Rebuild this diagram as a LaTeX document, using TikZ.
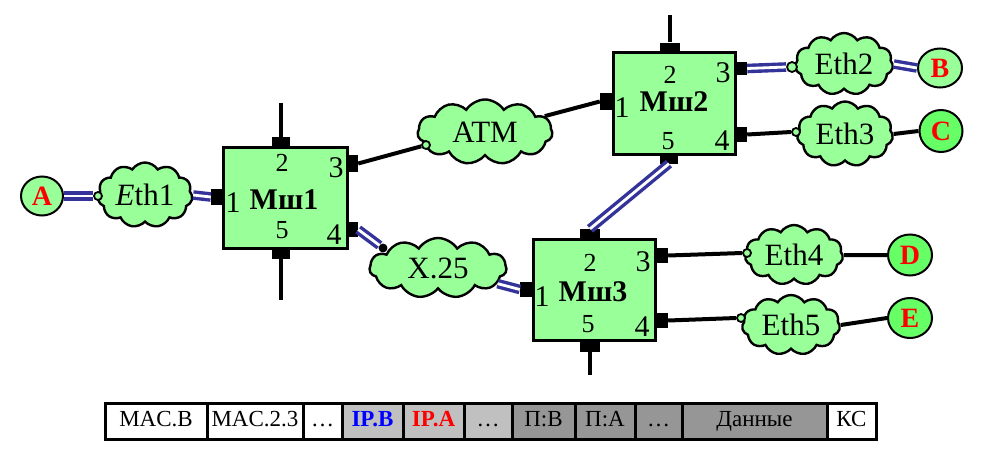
\documentclass[tikz,border=0pt]{standalone}
\usepackage{fontspec}
\setmainfont{Liberation Serif}
\usetikzlibrary{shapes.symbols,shapes.geometric}
\definecolor{lg}{RGB}{153,255,153}
\definecolor{mg}{RGB}{102,255,102}
\definecolor{dblue}{RGB}{51,51,153}
\definecolor{ga}{RGB}{192,192,192}
\definecolor{gb}{RGB}{150,150,150}
\tikzset{
  router/.style={draw, line width=3pt, fill=lg, rectangle, inner sep=0},
  port/.style={fill=black, rectangle, inner sep=0},
  net/.style={cloud, cloud puffs=11, cloud puff arc=115, cloud ignores aspect, draw, line width=2.4pt, fill=lg, inner sep=0, font=\fontsize{31}{33}\selectfont},
  host/.style={ellipse, draw, line width=2pt, inner sep=0, text=red, font=\fontsize{28}{30}\selectfont\bfseries},
  jack/.style={circle, draw, line width=1.8pt, fill=lg, inner sep=0, minimum size=8pt},
  dline/.style={draw=dblue, double=white, double distance=2.8pt, line width=3.4pt},
  bline/.style={line width=4pt},
  rname/.style={font=\fontsize{30}{32}\selectfont\bfseries, inner sep=0},
  pbig/.style={font=\fontsize{30}{32}\selectfont, inner sep=0},
  psmall/.style={font=\fontsize{26}{28}\selectfont, inner sep=0},
  cell/.style={draw, line width=3pt, minimum height=36pt, inner sep=0, text height=15pt, text depth=4pt, font=\fontsize{23}{25}\selectfont},
}
\begin{document}
\begin{tikzpicture}[x=1pt,y=-1pt]
\useasboundingbox[fill=white] (0,0) rectangle (987,463);

% routers
\node[router, minimum width=124pt, minimum height=101pt] (r1) at (285,197.5) {};
\node[router, minimum width=122pt, minimum height=102pt] (r2) at (674,103) {};
\node[router, minimum width=122pt, minimum height=101pt] (r3) at (594,289.5) {};

\node[rname] (r1n) at (284,200) {Мш1};
\node[rname] (r2n) at (674,102) {Мш2};
\node[rname] (r3n) at (593,292) {Мш3};

% port numbers
\node[pbig] (r1l1) at (233,203) {1};
\node[psmall] (r1l2) at (282,163) {2};
\node[pbig] (r1l3) at (336,168) {3};
\node[pbig] (r1l4) at (334,235) {4};
\node[psmall] (r1l5) at (282,230) {5};

\node[pbig] (r2l1) at (622,108) {1};
\node[psmall] (r2l2) at (670,75) {2};
\node[pbig] (r2l3) at (723,73) {3};
\node[pbig] (r2l4) at (722,141) {4};
\node[psmall] (r2l5) at (668,141) {5};

\node[pbig] (r3l1) at (542,297) {1};
\node[psmall] (r3l2) at (590,263) {2};
\node[pbig] (r3l3) at (643,262) {3};
\node[pbig] (r3l4) at (642,327) {4};
\node[psmall] (r3l5) at (588,324) {5};

% ports
\node[port, minimum width=18pt, minimum height=11pt] (r1p2) at (281,142.5) {};
\node[port, minimum width=18pt, minimum height=11pt] (r1p5) at (281,253) {};
\node[port, minimum width=13pt, minimum height=16pt] (r1p1) at (217.5,197) {};
\node[port, minimum width=12pt, minimum height=17pt] (r1p3) at (352,163.5) {};
\node[port, minimum width=12pt, minimum height=15pt] (r1p4) at (352,229.5) {};

\node[port, minimum width=20pt, minimum height=10pt] (r2p2) at (670,47.5) {};
\node[port, minimum width=13pt, minimum height=17pt] (r2p1) at (606.5,101.5) {};
\node[port, minimum width=12pt, minimum height=13pt] (r2p3) at (741,68.5) {};
\node[port, minimum width=12pt, minimum height=15pt] (r2p4) at (741,134.5) {};
\node[port, minimum width=18pt, minimum height=10pt] (r2p5) at (669,158.5) {};

\node[port, minimum width=20pt, minimum height=10pt] (r3p2) at (590,234) {};
\node[port, minimum width=13pt, minimum height=15pt] (r3p1) at (526.5,289.5) {};
\node[port, minimum width=13pt, minimum height=15pt] (r3p3) at (661.5,255.5) {};
\node[port, minimum width=13pt, minimum height=15pt] (r3p4) at (661.5,320.5) {};
\node[port, minimum width=20pt, minimum height=12pt] (r3p5) at (590,346) {};

% stub lines
\coordinate (s1t) at (281,103);
\coordinate (s1b) at (281,300);
\coordinate (s2t) at (670,15);
\coordinate (s3b) at (590,375);
\draw[bline] (s1t) -- (r1p2.north);
\draw[bline] (r1p5.south) -- (s1b);
\draw[bline] (s2t) -- (r2p2.north);
\draw[bline] (r3p5.south) -- (s3b);

% clouds
\node[net, minimum width=95pt, minimum height=65pt] (eth1) at (145,195) {\textit{E}th1};
\node[net, minimum width=135pt, minimum height=65pt] (atm) at (485,132) {ATM};
\node[net, minimum width=98pt, minimum height=62pt] (eth2) at (844,64) {Eth2};
\node[net, minimum width=96pt, minimum height=65pt] (eth3) at (845,134) {Eth3};
\node[net, minimum width=137pt, minimum height=60pt] (x25) at (438,268) {X.25};
\node[net, minimum width=98pt, minimum height=60pt] (eth4) at (794,255) {Eth4};
\node[net, minimum width=98pt, minimum height=60pt] (eth5) at (791,325) {Eth5};

% hosts
\node[host, fill=lg, minimum width=42pt, minimum height=39pt] (hA) at (42,196) {A};
\node[host, fill=lg, minimum width=44pt, minimum height=39pt] (hB) at (940,68) {B};
\node[host, fill=mg, minimum width=43pt, minimum height=42pt] (hC) at (941,131) {C};
\node[host, fill=mg, minimum width=44pt, minimum height=41pt] (hD) at (910,255) {D};
\node[host, fill=mg, minimum width=44pt, minimum height=40pt] (hE) at (910,318) {E};

% jacks
\node[jack] (j1) at (98,196) {};
\node[jack] (jatm) at (426,145) {};
\node[jack, minimum size=10pt] (j2) at (792,67) {};
\node[jack] (j3) at (796,132) {};
\node[jack] (j4) at (747,253) {};
\node[jack] (j5) at (741,318) {};
\node[jack, fill=black, minimum size=7pt] (jx) at (383,248) {};

% connectors
\draw[dline] (hA.east) -- (j1.west);
\draw[dline] (eth1.east) -- (r1p1.west);
\draw[bline] (r1p3.east) -- (jatm);
\draw[bline] (atm) -- (r2p1.west);
\draw[dline] (r1p4.east) -- (jx);
\draw[dline] (x25) -- (r3p1.west);
\draw[dline] (r2p5.south) -- (r3p2.north);
\draw[dline] (r2p3.east) -- (j2.west);
\draw[dline] (eth2.east) -- (hB.west);
\draw[bline] (r2p4.east) -- (j3.west);
\draw[bline] (eth3.east) -- (hC.west);
\draw[bline] (r3p3.east) -- (j4.west);
\draw[bline] (eth4.east) -- (hD.west);
\draw[bline] (r3p4.east) -- (j5.west);
\draw[bline] (eth5.east) -- (hE.west);

% frame table
\node[cell, fill=white, minimum width=102pt] (c1) at (156,421) {MAC.B};
\node[cell, fill=white, minimum width=96pt] (c2) at (255,421) {MAC.2.3};
\node[cell, fill=white, minimum width=39pt] (c3) at (322.5,421) {…};
\node[cell, fill=ga, minimum width=61pt, text=blue, font=\fontsize{23}{25}\selectfont\bfseries] (c4) at (372.5,421) {IP.B};
\node[cell, fill=ga, minimum width=61pt, text=red, font=\fontsize{23}{25}\selectfont\bfseries] (c5) at (433.5,421) {IP.A};
\node[cell, fill=ga, minimum width=48pt] (c6) at (488,421) {…};
\node[cell, fill=gb, minimum width=63pt] (c7) at (543.5,421) {П:B};
\node[cell, fill=gb, minimum width=60pt] (c8) at (605,421) {П:A};
\node[cell, fill=gb, minimum width=47pt] (c9) at (658.5,421) {…};
\node[cell, fill=gb, minimum width=145pt] (c10) at (754.5,421) {Данные};
\node[cell, fill=white, minimum width=49pt] (c11) at (851.5,421) {КС};
\end{tikzpicture}
\end{document}
